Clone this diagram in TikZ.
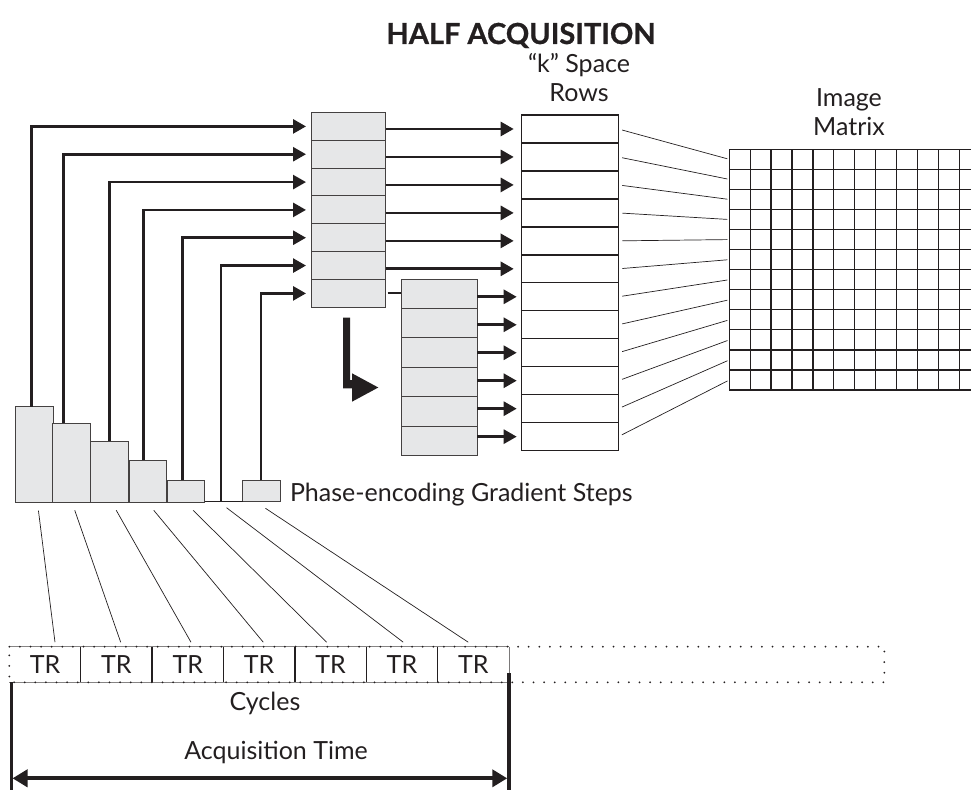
\documentclass[tikz,border=0pt]{standalone}
\usepackage{fontspec}
\setmainfont{Lato}
\newfontfamily\titlefont[FakeBold=0.8]{Lato}
\usetikzlibrary{arrows.meta,calc}
\definecolor{cellgray}{HTML}{E6E7E8}
\definecolor{ink}{HTML}{231F20}
\begin{document}
\begin{tikzpicture}[x=1pt,y=-1pt,
  every node/.style={inner sep=0pt, outer sep=0pt},
  txt/.style={font=\fontsize{25}{29}\selectfont, text=ink},
  cellA/.style={draw=ink!85, line width=1pt, fill=cellgray, minimum width=74.7pt, minimum height=27.83pt},
  cellB/.style={draw=ink!85, line width=1pt, fill=cellgray, minimum width=76.3pt, minimum height=29.45pt},
  krow/.style={draw=ink, line width=1.3pt, fill=white, minimum width=96.6pt, minimum height=27.97pt},
  bar/.style={draw=ink!85, line width=1pt, fill=cellgray, anchor=south west, minimum width=37.5pt},
  feed/.style={draw=ink, line width=2.7pt, -{Triangle[length=13pt,width=14pt]}},
  thinln/.style={draw=ink, line width=0.7pt},
  gridln/.style={draw=ink, line width=1.3pt},
  dotln/.style={draw=ink, line width=2pt, line cap=round, dash pattern=on 0pt off 10.6pt},
  trcell/.style={txt, minimum width=71.39pt, minimum height=35.6pt},
]
\useasboundingbox (0,0) rectangle (971,792);

% title and labels
\node[font=\titlefont\fontsize{29}{34}\selectfont\bfseries, text=ink, anchor=base] (title) at (521,44) {HALF ACQUISITION};
\node[txt, align=center, anchor=base] (klab) at (579,101) {“k” Space\\Rows};
\node[txt, align=center, anchor=base] (mlab) at (849,135) {Image\\Matrix};

% stack A
\foreach \i in {1,...,7}
  \node[cellA] (a\i) at (348.35, {112.5+27.83*(\i-0.5)}) {};
% stack B
\foreach \i in {1,...,6}
  \node[cellB] (b\i) at (439.15, {279+29.45*(\i-0.5)}) {};
% k-space rows
\foreach \i in {1,...,12}
  \node[krow] (k\i) at (570, {115+27.97*(\i-0.5)}) {};

% image matrix
\foreach \j in {0,...,11}
  \draw[gridln] ({729.3+20.9*\j},149.3) -- ({729.3+20.9*\j},390);
\foreach \r in {0,...,12}
  \draw[gridln] (729.3,{149.3+20.06*\r}) -- (971,{149.3+20.06*\r});
\foreach \i in {1,...,12}
  \coordinate (m\i) at (729.3, {149.3+20.06*(\i-0.5)});

% gradient steps
\node[bar, minimum height=95.6pt] (g1) at (15.7,502.3) {};
\node[bar, minimum height=79pt] (g2) at (52.7,502.3) {};
\node[bar, minimum height=61.3pt] (g3) at (90.7,502.3) {};
\node[bar, minimum height=42.3pt] (g4) at (129,502.3) {};
\node[bar, minimum height=22pt] (g5) at (167,502.3) {};
\node[anchor=south west, minimum width=37.7pt, minimum height=0pt] (g6) at (205,501.5) {};
\node[bar, minimum height=21pt] (g7) at (242.7,501) {};
\draw[draw=ink, line width=1pt] (g6.south west) -- (g6.south east);
\node[txt, anchor=base west] (glab) at (290,501.7) {Phase-encoding Gradient Steps};

% feed arrows from gradient steps to stack A
\foreach \i/\o in {1/16, 2/10.6, 3/18.6, 4/14.3, 5/15.7, 6/16, 7/18.3}
  \draw[feed, shorten >=5pt] ($(g\i.north west)+(\o,0)$) |- (a\i.west);

% stack A to k rows
\foreach \i in {1,...,6}
  \draw[feed, shorten >=8pt] (k\i.west -| a\i.east) -- (k\i.west);
% stub from last cell of A to B
\draw[draw=ink, line width=2pt, shorten <=2pt] (a7.east) -- (a7.east -| b1.west);
% stack B to k rows
\foreach \i/\j in {1/7, 2/8, 3/9, 4/10, 5/11, 6/12}
  \draw[feed, shorten >=5pt] (k\j.west -| b\i.east) -- (k\j.west);

% big L arrow
\fill[ink] (343,317.7) -- (350,317.7) -- (350,380) -- (352,380) -- (352,373.3)
  -- (378.3,387.5) -- (352,401.7) -- (352,388.3) -- (343,388.3) -- cycle;

% k rows to image matrix
\foreach \i in {1,...,12}
  \draw[thinln, shorten <=4pt, shorten >=2pt] (k\i.east) -- (m\i);

% TR cycles
\foreach \i in {1,...,7}
  \node[trcell] (t\i) at ({9.3+71.39*(\i-0.5)}, 664.5) {TR};
\coordinate (dne) at (884.3,646.7);
\coordinate (dse) at (884.3,682.3);
\draw[draw=ink!55, line width=0.6pt] (t1.north west) -- (t7.north east);
\draw[draw=ink!55, line width=0.6pt] (t1.south west) -- (t7.south east);
\draw[dotln] (t1.north west) -- (dne) -- (dse) -- (t1.south west) -- cycle;
\foreach \i in {1,...,6}
  \draw[draw=ink, line width=1.3pt] (t\i.north east) -- (t\i.south east);
\draw[draw=ink!60, line width=0.8pt] (t7.north east) -- (t7.south east);

% bar-to-cycle lines
\foreach \i/\sx/\sy/\ex in {1/4/8.4/10, 2/3.3/8/4.3, 3/6.8/8/3.2, 4/6/8/4.1, 5/7.3/8/-3.9, 6/2.7/6.2/1.3, 7/4/7.3/-5.1}
  \draw[thinln] ($(g\i.south)+(\sx,\sy)$) -- ($(t\i.north)+(\ex,-4.5)$);

% acquisition time
\node[txt, anchor=base] (cyc) at (265,710) {Cycles};
\node[txt, anchor=base] (acq) at (276,759.3) {Acquisition Time};
\coordinate (aL) at (11,790);
\coordinate (aR) at (509,790);
\draw[draw=ink, line width=3pt] (t1.south west -| aL) -- (aL);
\draw[draw=ink, line width=3.5pt] (509,673) -- (aR);
\draw[draw=ink, line width=4pt, {Triangle[length=15pt,width=17pt]}-{Triangle[length=15pt,width=17pt]}]
  ($(aL)+(1.5,-11.7)$) -- ($(aR)+(-1.75,-11.7)$);
\end{tikzpicture}
\end{document}
